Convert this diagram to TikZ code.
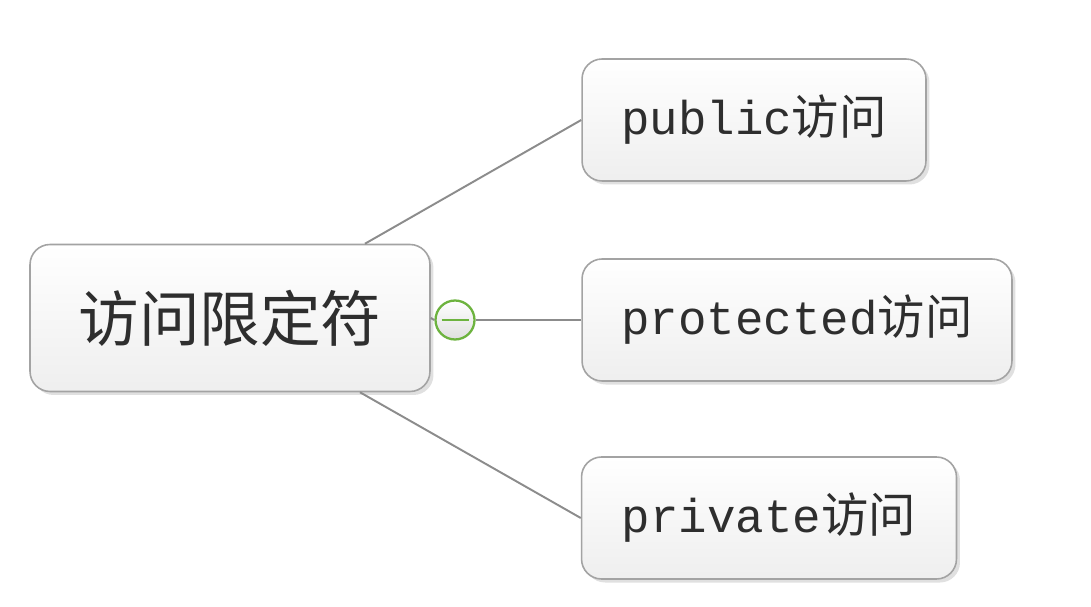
\documentclass[tikz,border=0pt]{standalone}
\usepackage{fontspec}
\setmonofont{Liberation Mono}
\newfontfamily\cjk{Noto Sans CJK SC}
\usepackage{tikz}
\usetikzlibrary{positioning, shadows}
\definecolor{mapline}{HTML}{8C8C8C}
\definecolor{mapborder}{HTML}{A3A3A3}
\definecolor{mapgreen}{HTML}{6DB33F}
\definecolor{maptext}{HTML}{2E2E2E}

\begin{document}
\begin{tikzpicture}[x=0.02cm, y=-0.02cm,
    topic/.style={draw=mapborder, line width=0.9pt, rounded corners=0.4cm,
                  top color=white, bottom color=gray!13, text=maptext,
                  drop shadow={shadow xshift=2pt, shadow yshift=-2pt, opacity=0.12, fill=black}},
    subtopic/.style={topic, minimum height=2.44cm, font=\ttfamily\fontsize{27}{31}\selectfont},
    link/.style={draw=mapline, line width=1.1pt},
    toggle/.style={circle, draw=mapgreen, line width=1.3pt, minimum size=0.78cm, inner sep=0pt,
                   top color=white, bottom color=gray!25},
]
    \useasboundingbox[fill=white] (0,0) rectangle (1091,607);

    \node[topic, minimum width=8cm, minimum height=2.94cm,
          font=\cjk\fontsize{34.5}{40}\selectfont] (access) at (230,318) {访问限定符};

    \node[subtopic, minimum width=6.88cm] (public) at (754,120) {public{\cjk 访问}};
    \node[subtopic, minimum width=8.6cm] (protected) at (797,320) {protected{\cjk 访问}};
    \node[subtopic, minimum width=7.5cm] (private) at (769,518) {private{\cjk 访问}};

    \node[toggle] (fold) at (455,320) {};

    \draw[link] ([xshift=2.7cm]access.north) -- (public.west);
    \draw[link] ([xshift=2.6cm]access.south) -- (private.west);
    \draw[link] (access.east) -- (fold.west);
    \draw[link] (fold.east) -- (protected.west);
    \draw[mapgreen, line width=1.6pt] ([xshift=-0.27cm]fold.center) -- ([xshift=0.27cm]fold.center);
\end{tikzpicture}
\end{document}
